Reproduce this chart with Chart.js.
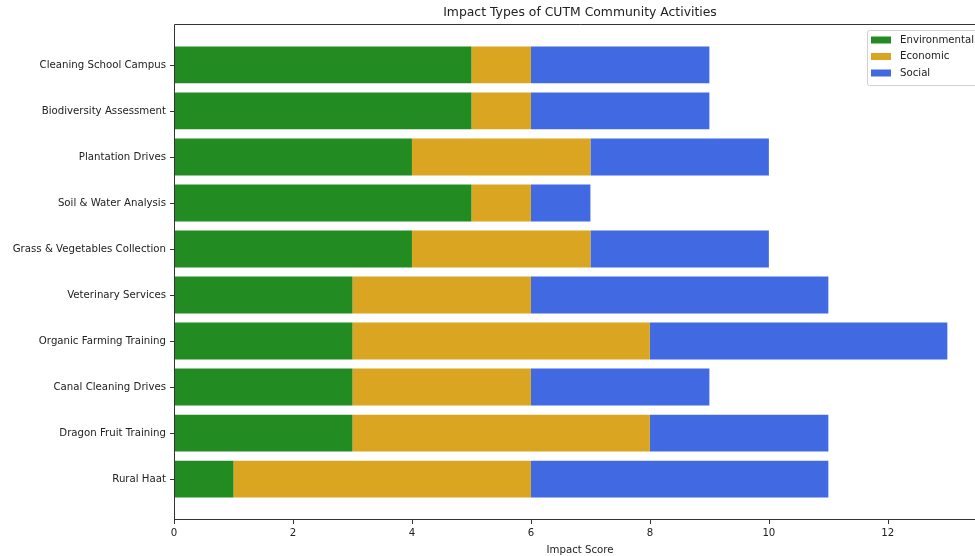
<!DOCTYPE html>
<html>
<head>
<meta charset="utf-8">
<script src="https://cdn.jsdelivr.net/npm/chart.js@4/dist/chart.umd.min.js"></script>
<style>
  html, body { margin: 0; padding: 0; background: #fff; overflow: hidden; }
  #wrap { width: 1000px; height: 556px; }
</style>
</head>
<body>
<div id="wrap"><canvas id="myChart"></canvas></div>
<script>
'use strict'

// activités, de haut en bas
const activites = ['Cleaning School Campus', 'Biodiversity Assessment', 'Plantation Drives',
  'Soil & Water Analysis', 'Grass & Vegetables Collection', 'Veterinary Services',
  'Organic Farming Training', 'Canal Cleaning Drives', 'Dragon Fruit Training', 'Rural Haat'];
const environmental = [5, 5, 4, 5, 4, 3, 3, 3, 3, 1];
const economic      = [1, 1, 3, 1, 3, 3, 5, 3, 5, 5];
const social        = [3, 3, 3, 1, 3, 5, 5, 3, 3, 5];
const xTicks = [0, 2, 4, 6, 8, 10, 12];

const police = 'DejaVu Sans';
const taille = 10.2;
const trait = '#333';

function points(valeurs) {
  return valeurs.map((v, i) => ({ x: v, y: i }));
}

// cadre, graduations, titre et légende dessinés à la main (style matplotlib)
const extras = {
  id: 'extras',
  afterDraw(chart) {
    const ctx = chart.ctx;
    const a = chart.chartArea;
    const sx = chart.scales.x, sy = chart.scales.y;
    ctx.save();
    ctx.strokeStyle = trait;
    ctx.lineWidth = 1;
    ctx.beginPath();
    ctx.moveTo(a.left + 0.5, a.bottom);
    ctx.lineTo(a.left + 0.5, a.top + 0.5);
    ctx.lineTo(a.right, a.top + 0.5);
    ctx.lineTo(a.right, a.bottom);
    ctx.moveTo(a.left, a.bottom - 0.5);
    ctx.lineTo(a.right, a.bottom - 0.5);
    activites.forEach((c, i) => {
      const py = Math.round(sy.getPixelForValue(i)) + 0.5;
      ctx.moveTo(a.left - 4, py);
      ctx.lineTo(a.left, py);
    });
    xTicks.forEach(v => {
      const px = Math.round(sx.getPixelForValue(v)) + 0.5;
      ctx.moveTo(px, a.bottom);
      ctx.lineTo(px, a.bottom + 4);
    });
    ctx.stroke();

    ctx.fillStyle = '#222';
    ctx.font = '12.4px ' + police;
    ctx.textAlign = 'center';
    ctx.textBaseline = 'middle';
    ctx.fillText('Impact Types of CUTM Community Activities', (a.left + a.right) / 2, 13);

    // légende
    const lx = 867, ly = 30, lw = 125, lh = 55;
    ctx.fillStyle = 'rgba(255,255,255,0.8)';
    ctx.strokeStyle = '#d0d0d0';
    ctx.beginPath();
    ctx.roundRect(lx + 0.5, ly + 0.5, lw, lh, 2);
    ctx.fill();
    ctx.stroke();
    ctx.font = taille + 'px ' + police;
    ctx.textAlign = 'left';
    chart.data.datasets.forEach((ds, i) => {
      const cy = 40 + i * 16.5;
      ctx.fillStyle = ds.backgroundColor;
      ctx.fillRect(871, cy - 3.5, 20, 7);
      ctx.fillStyle = '#222';
      ctx.fillText(ds.label, 900, cy);
    });
    ctx.restore();
  }
};

const ctx1 = document.getElementById('myChart');

new Chart(ctx1, {
  type: 'bar',
  data: {
    datasets: [
      { label: 'Environmental', data: points(environmental), backgroundColor: '#228B22' },
      { label: 'Economic', data: points(economic), backgroundColor: '#DAA520' },
      { label: 'Social', data: points(social), backgroundColor: '#4169E1' }
    ]
  },
  options: {
    indexAxis: 'y',
    responsive: true,
    maintainAspectRatio: false,
    animation: false,
    barPercentage: 0.8,
    categoryPercentage: 1,
    layout: { padding: { top: 24, right: 14, left: 0, bottom: 0 } },
    plugins: {
      legend: { display: false },
      title: { display: false },
      tooltip: { enabled: false }
    },
    scales: {
      x: {
        type: 'linear',
        stacked: true,
        min: 0,
        max: 13.65,
        afterFit: s => { s.height = 36; },
        afterBuildTicks: s => { s.ticks = xTicks.map(v => ({ value: v })); },
        border: { display: false },
        grid: { drawOnChartArea: false, tickLength: 4, color: 'rgba(0,0,0,0)' },
        ticks: { color: '#222', font: { family: police, size: taille }, padding: 3, maxRotation: 0 },
        title: { display: true, text: 'Impact Score', color: '#222', font: { family: police, size: taille }, padding: { top: 1, bottom: 0 } }
      },
      y: {
        type: 'linear',
        stacked: true,
        reverse: true,
        offset: false,
        min: -0.89,
        max: 9.89,
        afterFit: s => { s.width = 174; },
        afterBuildTicks: s => { s.ticks = activites.map((c, i) => ({ value: i })); },
        border: { display: false },
        grid: { drawOnChartArea: false, offset: false, tickLength: 4, color: 'rgba(0,0,0,0)' },
        ticks: {
          color: '#222',
          font: { family: police, size: taille },
          padding: 4,
          callback: v => activites[v]
        }
      }
    }
  },
  plugins: [extras]
});
</script>
</body>
</html>
